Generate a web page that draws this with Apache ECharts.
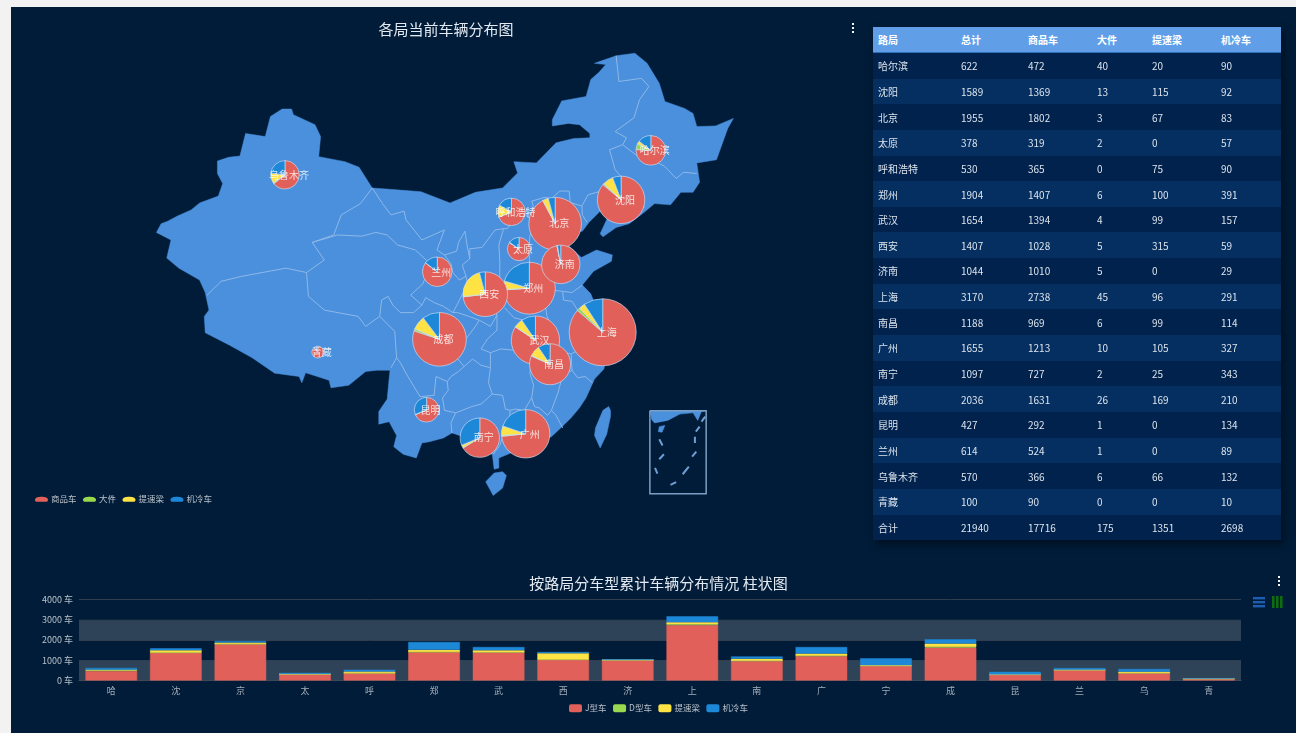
<!DOCTYPE html>
<html>
<head>
<meta charset="utf-8">
<title>各局当前车辆分布图</title>
<script src="https://cdn.jsdelivr.net/npm/echarts@6/dist/echarts.min.js"></script>
<style>
  html, body { margin: 0; padding: 0; width: 1296px; height: 733px; overflow: hidden; background: #f2f2f2; }
  .panel { position: absolute; left: 11px; top: 7px; width: 1285px; height: 726px; background: #001c38; }
  #chart { position: absolute; left: 0; top: 0; width: 1296px; height: 733px; }
  .stats { position: absolute; left: 873px; top: 27px; width: 408px; border-collapse: collapse; table-layout: fixed;
    font-family: "Noto Sans CJK SC", sans-serif; font-size: 10px; color: #dbe3ec;
    box-shadow: 3px 4px 8px rgba(0, 0, 0, 0.45); }
  .stats th, .stats td { padding: 0 0 0 5px; text-align: left; height: 25.65px; white-space: nowrap; overflow: hidden; }
  .stats th { height: 25px; background: #609fe8; color: #fff; font-weight: 700; border-bottom: 1px solid #2f6fb5; }
  .stats tr:nth-child(odd) td { background: #00224d; }
  .stats tr:nth-child(even) td { background: #052f60; }
</style>
</head>
<body>
<div class="panel"></div>
<div id="chart"></div>
<table class="stats" id="stats"></table>
<script>
const fontFamily = '"Noto Sans CJK SC", sans-serif'

const columns = ['路局', '总计', '商品车', '大件', '提速梁', '机冷车']
const columnWidths = [83, 67, 69, 55, 69, 65]
const bureaus = ['哈尔滨', '沈阳', '北京', '太原', '呼和浩特', '郑州', '武汉', '西安', '济南', '上海', '南昌', '广州', '南宁', '成都', '昆明', '兰州', '乌鲁木齐', '青藏']
const shortNames = ['哈', '沈', '京', '太', '呼', '郑', '武', '西', '济', '上', '南', '广', '宁', '成', '昆', '兰', '乌', '青']
const totals = [622, 1589, 1955, 378, 530, 1904, 1654, 1407, 1044, 3170, 1188, 1655, 1097, 2036, 427, 614, 570, 100]
const goods = [472, 1369, 1802, 319, 365, 1407, 1394, 1028, 1010, 2738, 969, 1213, 727, 1631, 292, 524, 366, 90]
const large = [40, 13, 3, 2, 0, 6, 4, 5, 5, 45, 6, 10, 2, 26, 1, 1, 6, 0]
const beams = [20, 115, 67, 0, 75, 100, 99, 315, 0, 96, 99, 105, 25, 169, 0, 0, 66, 0]
const cold = [90, 92, 83, 57, 90, 391, 157, 59, 29, 291, 114, 327, 343, 210, 134, 89, 132, 10]
const sumRow = ['合计', 21940, 17716, 175, 1351, 2698]

// city lon/lat of each bureau
const cityCoords = [[126.6, 45.75], [123.43, 41.8], [116.4, 39.9], [112.55, 37.87], [111.75, 40.84], [113.65, 34.75], [114.3, 30.6], [108.95, 34.27], [117, 36.65], [121.47, 31.23], [115.86, 28.68], [113.26, 23.13], [108.37, 22.82], [104.07, 30.67], [102.7, 25.05], [103.83, 36.06], [87.6, 43.8], [91.1, 29.65]]

const pieNames = ['商品车', '大件', '提速梁', '机冷车']
const barNames = ['J型车', 'D型车', '提速梁', '机冷车']
const colors = ['#e2605a', '#9ad94e', '#ffe344', '#1e88d8']
const yTicks = [0, 1000, 2000, 3000, 4000]

// simplified base map, lon/lat
const chinaOutline = [[73.9, 39.2], [74.4, 39.9], [75.1, 40.1], [76.1, 40.5], [77.6, 41], [78.5, 41.55], [80.5, 42.1], [80.96, 43.1], [80.4, 43.9], [80.4, 44.9], [81.6, 45.2], [82.8, 45.3], [83.4, 47.1], [85.5, 46.85], [86.05, 48.45], [87.3, 49.05], [88.3, 49.05], [88.5, 48.6], [90.8, 47.8], [91.4, 46.85], [91.2, 45.25], [94, 44.85], [95.5, 44.4], [96.9, 42.75], [99.5, 42.6], [102.1, 42.45], [105.2, 41.55], [107.9, 42.4], [110.8, 42.75], [112.4, 43.95], [112, 44.85], [114.4, 44.75], [116.5, 46.35], [118.4, 46.7], [120.1, 46.75], [120.1, 47.1], [119, 47.8], [117.8, 47.9], [116.1, 47.7], [116.1, 48.2], [117.1, 49.7], [119.7, 50.05], [120.2, 51.4], [121.1, 52], [121.8, 52.6], [120.6, 52.7], [122.9, 53.3], [124.9, 53.5], [126.2, 52.7], [127.5, 51.1], [128.1, 49.65], [130.2, 49.1], [131.1, 48.7], [131.5, 47.65], [133.5, 47.7], [135.4, 48.3], [134.8, 47.5], [133.6, 45], [131.5, 44.75], [131.8, 43.2], [131.1, 42.4], [129.8, 42.4], [128.7, 41.4], [127, 41.5], [125.8, 40.75], [124.3, 39.9], [122.9, 39.6], [121.5, 38.85], [121.2, 39.1], [122, 40.4], [121.2, 40.9], [120, 40], [119.3, 39.3], [118, 39.2], [117.7, 38.7], [117.6, 38.3], [118.9, 37.4], [119.2, 37.2], [120.8, 37.8], [122.5, 37.4], [122.4, 36.9], [120.5, 36.1], [119.3, 35], [120.2, 34.3], [120.9, 33], [121.9, 31.8], [121.9, 30.9], [120.9, 30.4], [122, 29.9], [121.6, 28.3], [120.6, 27.5], [119.7, 26], [119, 25.2], [118.1, 24.4], [117, 23.6], [116, 22.9], [114.3, 22.5], [113.6, 22.2], [112, 21.7], [110.4, 21.2], [110.4, 20.4], [109.9, 20.3], [109.7, 21.5], [108.6, 21.6], [108, 21.5], [106.7, 22], [106.6, 22.9], [105.4, 23.2], [104.5, 22.8], [103, 22.5], [102.2, 22.4], [101.6, 21.2], [100.2, 21.5], [99.2, 22.1], [99.5, 23], [98.7, 24.1], [97.6, 23.9], [97.6, 24.9], [98.5, 25.9], [98.7, 27.5], [98.8, 28.2], [97.4, 28.2], [96.2, 28.1], [94.4, 27], [92.5, 26.8], [92.3, 27.4], [89.8, 28], [89.4, 27.2], [89.1, 27.7], [86.5, 27.97], [84.1, 29.2], [81.7, 30.2], [79.1, 31.2], [79, 32.5], [79.5, 33], [79.1, 34.4], [78.5, 35.4], [76.3, 36.35], [75, 37.15], [75.45, 38.6]]
const hainan = [[109, 19.3], [109.8, 18.2], [110.8, 18.8], [111.2, 19.8], [110.8, 20.1], [109.9, 20], [109, 19.3]]
const taiwan = [[122.3, 25], [122.1, 25.3], [121.5, 25], [120.7, 23.6], [120.6, 23], [121.2, 22], [121.9, 23.1], [122.3, 24.5], [122.3, 25]]
const provinceBorders = [
  [[96.9, 42.75], [95.65, 41.5], [93.6, 40.6], [92.8, 39], [90.5, 38.4], [91.8, 37], [89.9, 36], [87.7, 36.35], [83, 35.7], [80.8, 35.3], [79.3, 34.2]],
  [[90.5, 38.4], [93.2, 39], [95.8, 38.9], [97.3, 39.2], [98.5, 39], [99.6, 38.2], [101.5, 37.8], [102.8, 36.9], [102.7, 36.3], [102.5, 35.5], [102.3, 35.1], [101, 34.2], [102.2, 33.4], [101.3, 32.8], [99.9, 32.8], [99.1, 33.4], [98.6, 34.1], [97.9, 33.8], [97.7, 32.5], [96.2, 31.7], [95.4, 32.5], [91.8, 33], [90.1, 34.1], [89.9, 36]],
  [[97.7, 32.5], [99.3, 31.3], [99.5, 29.2], [98.9, 28.4]],
  [[99.5, 29.2], [99.9, 28.8], [100.7, 27.7], [102, 26.1], [103.5, 26.2], [103.7, 27.7], [104.9, 27.3], [105.3, 27.7], [106.1, 28.1], [106.7, 28.5], [107.6, 29.1], [108.5, 28.6], [109.5, 28.4], [109.3, 27.2], [109.7, 26.3], [108.5, 25.5], [107.5, 25.3], [106.5, 25], [105.8, 24.8], [104.6, 25], [104.4, 26], [105, 26.6], [104.9, 27.3]],
  [[105.8, 24.8], [105.3, 24], [105.4, 23.2]],
  [[96.9, 42.75], [98, 41.5], [98.9, 40.6], [100.3, 40.9], [100.5, 40.2], [102.2, 38.6], [104.6, 39.4], [103.8, 37.8], [104.6, 37.4], [105.9, 37.7], [106.1, 38.4], [106.8, 39.3], [107, 38.2], [107.3, 37.1], [106.5, 36.6], [106.9, 35.7], [106.2, 35.4], [105.5, 36], [105.3, 36.7], [104.6, 37.4]],
  [[107.3, 37.1], [107.3, 37.9], [108.6, 38], [110, 39.4], [110.9, 39.5], [111.3, 39.5], [112, 40.2], [113, 40.7], [114.1, 40.7], [114.1, 41.2], [113.9, 41.7], [115.3, 42], [116, 41.9], [116.9, 42.5], [117.9, 42.5], [118, 41.6], [119.25, 41.3], [119.9, 42.2], [121.3, 42.5], [122.5, 42.8], [123.6, 43.5], [122.8, 44.2], [122.2, 45.8], [123.6, 46.2], [124, 46.75], [122.8, 47.25], [124.8, 48.35], [125.4, 49.8], [126.4, 50.85], [125.6, 51.5], [123.2, 51.25], [122.9, 53.3]],
  [[123.6, 46.2], [125, 45.4], [126.5, 45.1], [128.1, 44.46], [129.3, 43.5], [130.1, 44], [131.5, 43.9]],
  [[123.6, 43.5], [124.6, 43], [125.5, 42.2], [125.9, 41.2]],
  [[119.25, 41.3], [119.3, 40.6], [119.8, 40]],
  [[110.9, 39.5], [110.4, 38.2], [110.5, 36.9], [110.5, 35.3], [110.3, 34.6], [111, 34.3], [110.9, 33.3], [110, 33], [110.2, 32.6], [109.5, 31.7], [108.3, 32.2], [107.2, 32.5], [106, 32.8], [105.5, 32.8], [106, 33.5], [106.6, 34.4], [107.1, 35], [106.9, 35.7]],
  [[113, 40.7], [114.3, 40], [113.7, 38.9], [113.6, 37.6], [113.7, 36.8], [114.3, 36.2], [113.5, 35.6], [112.9, 35.2], [111, 34.7], [110.3, 34.6]],
  [[114.3, 36.2], [115.4, 36.1], [115.4, 36.9], [116.3, 37.6], [117.6, 38.3]],
  [[115.4, 36.1], [115.1, 35.4], [116.1, 34.6], [117.2, 34.5], [118.2, 34.4], [119.3, 35]],
  [[116.1, 34.6], [115.3, 33.8], [115.5, 32.6], [115.9, 31.8], [114.9, 31.5], [114.1, 31.7], [113.7, 31.8], [113, 32.2], [112, 32.4], [111, 33.2]],
  [[110.2, 32.6], [110.2, 31.4], [109.2, 30.7], [108.5, 29.9], [109.5, 29.6], [110.6, 29.9], [112, 29.8], [113, 29.5], [114, 29], [115.3, 29.8], [116.1, 29.8], [115.9, 31.1], [115.9, 31.8]],
  [[109.5, 29.6], [109.5, 28.4]],
  [[117.2, 34.5], [117.3, 33.8], [118.2, 33.7], [118.8, 33], [119.2, 32.5], [118.6, 32], [118.9, 31.3], [119.5, 31.2], [119.6, 30.4], [118.9, 29.8], [118.1, 29.5], [117, 29.7], [116.1, 29.8]],
  [[119.6, 31.1], [120.5, 30.9], [121.3, 30.7]],
  [[118.1, 29.5], [118.2, 28.2], [118.8, 27.6], [119.6, 27.7], [120.4, 27.2]],
  [[118.2, 28.2], [117.2, 27.8], [116.7, 26.4], [116, 25], [116.5, 24.6], [117.2, 23.6]],
  [[116, 25], [115.6, 24.6], [114.7, 25.2], [114.2, 25.3], [113.9, 26], [114.1, 27], [113.7, 28], [114, 29]],
  [[113.9, 26], [113.1, 25], [112.2, 25.1], [111.6, 25], [111.1, 25.1], [110.8, 26.2], [109.7, 26.3]],
  [[111.6, 25], [111.5, 23.8], [111, 23.3], [110.5, 22.2], [109.8, 21.5]],
  [[106.7, 28.5], [105.8, 29.3], [106.3, 30.2], [107, 30.8], [108, 31.8], [108.3, 32.2]],
  [[105.5, 32.8], [104.5, 33.3], [103.5, 33.6], [102.6, 34], [102.2, 33.4]],
  [[115.5, 39.6], [116, 40.5], [116.9, 40.9], [117.4, 40.2], [116.9, 39.7], [116.4, 39.5], [115.5, 39.6]]
]
// south sea inset, lower right of the map
const insetBox = [[126.5, 24.96], [132.5, 24.96], [132.5, 18.34], [126.5, 18.34], [126.5, 24.96]]
const insetCoast = [[126.5, 24.96], [132.5, 24.96], [132, 24.9], [131.6, 24.2], [131.1, 24.8], [129.7, 24.7], [128.4, 24.2], [127, 24], [126.7, 24.25], [126.5, 24.96]]
const insetIsland = [[127.5, 23.7], [128.1, 23.8], [127.8, 23.25], [127.4, 23.3], [127.5, 23.7]]
const insetDashes = [
  [[127.5, 22.7], [127.85, 22.2]], [[127.5, 21.1], [128, 21.5]], [[127.05, 20.4], [127.3, 19.95]], [[128.7, 19.05], [129.3, 19.27]],
  [[130, 19.9], [130.65, 20.5]], [[131, 21.3], [131.45, 21.7]], [[131.3, 22.9], [131.3, 22.4]], [[131.4, 23.3], [131.8, 23.7]], [[132, 24.1], [132.4, 24.5]]
]

const feature = (name, type, coordinates) => ({ type: 'Feature', properties: { name }, geometry: { type, coordinates } })

echarts.registerMap('chinaBase', {
  type: 'FeatureCollection',
  features: [
    feature('china', 'Polygon', [chinaOutline.concat([chinaOutline[0]])]),
    feature('hainan', 'Polygon', [hainan]),
    feature('taiwan', 'Polygon', [taiwan]),
    feature('borders', 'MultiLineString', provinceBorders),
    feature('insetCoast', 'Polygon', [insetCoast]),
    feature('insetIsland', 'Polygon', [insetIsland]),
    feature('insetDashes', 'MultiLineString', insetDashes),
    feature('insetBox', 'LineString', insetBox)
  ]
})

// table
const headHtml = '<colgroup>' + columnWidths.map((w) => `<col style="width:${w}px">`).join('') + '</colgroup>' +
  '<thead><tr>' + columns.map((c) => `<th>${c}</th>`).join('') + '</tr></thead>'
const bodyRows = bureaus.map((name, i) => [name, totals[i], goods[i], large[i], beams[i], cold[i]]).concat([sumRow])
document.getElementById('stats').innerHTML = headHtml + '<tbody>' +
  bodyRows.map((row) => '<tr>' + row.map((v) => `<td>${v}</td>`).join('') + '</tr>').join('') + '</tbody>'

const pieSeries = bureaus.map((name, i) => ({
  name,
  type: 'pie',
  coordinateSystem: 'geo',
  center: cityCoords[i],
  radius: 0.595 * Math.sqrt(totals[i]),
  silent: true,
  z: 3,
  label: { show: false },
  labelLine: { show: false },
  data: [goods[i], large[i], beams[i], cold[i]].map((value, k) => ({
    name: pieNames[k],
    value,
    itemStyle: { color: colors[k], borderColor: 'rgba(205, 225, 245, 0.65)', borderWidth: 1 }
  }))
}))

const barSeries = barNames.map((name, k) => ({
  name,
  type: 'bar',
  stack: 'total',
  barWidth: '80%',
  xAxisIndex: 0,
  yAxisIndex: 0,
  itemStyle: { color: colors[k], borderColor: colors[k], borderWidth: 0.5 },
  data: [goods, large, beams, cold][k]
}))

const dots = (x, y) => [0, 4, 8].map((d) => ({
  type: 'rect',
  shape: { x, y: y + d, width: 2, height: 2 },
  style: { fill: '#f2f5f8' }
}))

const chart = echarts.init(document.getElementById('chart'))
chart.setOption({
  animation: false,
  textStyle: { fontFamily },
  title: [
    { text: '各局当前车辆分布图', left: 441, top: 17, textAlign: 'center', textStyle: { color: '#e4eaf1', fontSize: 15, fontWeight: 'normal', fontFamily } },
    { text: '按路局分车型累计车辆分布情况 柱状图', left: 653.5, top: 571, textAlign: 'center', textStyle: { color: '#e4eaf1', fontSize: 15, fontWeight: 'normal', fontFamily } }
  ],
  legend: [
    {
      data: pieNames,
      left: 30,
      top: 490,
      itemWidth: 13,
      itemHeight: 7,
      itemGap: 6.5,
      icon: 'path://M0 5C0 1 5 0 10 0C15 0 20 1 20 5C20 7 18 8 17 8L3 8C2 8 0 7 0 5Z',
      itemStyle: { borderWidth: 0 },
      selectedMode: false,
      textStyle: { color: '#b9c1c9', fontSize: 8.5, fontFamily, padding: [0, 0, 0, -2] }
    },
    {
      data: barNames,
      left: 564,
      top: 699,
      itemWidth: 13,
      itemHeight: 8,
      itemGap: 6.5,
      icon: 'roundRect',
      itemStyle: { borderWidth: 0 },
      selectedMode: false,
      textStyle: { color: '#b9c1c9', fontSize: 8.5, fontFamily, padding: [0, 0, 0, -2] }
    }
  ],
  geo: {
    map: 'chinaBase',
    roam: false,
    silent: true,
    aspectScale: 0.75,
    boundingCoords: [[73, 54], [136, 3]],
    left: 148,
    top: 47,
    width: 591,
    height: 639,
    itemStyle: { areaColor: '#4a90dd', borderColor: '#4a90dd', borderWidth: 0.5 },
    label: { show: false },
    regions: [
      { name: 'borders', itemStyle: { areaColor: 'none', borderColor: '#8fb8e8', borderWidth: 1 } },
      { name: 'insetDashes', itemStyle: { areaColor: 'none', borderColor: '#6f9fd6', borderWidth: 2 } },
      { name: 'insetBox', itemStyle: { areaColor: 'none', borderColor: '#7b9fc4', borderWidth: 1.5 } }
    ]
  },
  grid: { left: 79, top: 599.5, width: 1162, height: 81, containLabel: false },
  xAxis: {
    type: 'category',
    data: shortNames,
    axisLine: { lineStyle: { color: '#3b4a5a' } },
    axisTick: { show: false },
    axisLabel: { color: '#a4aeb9', fontSize: 9, margin: 6, interval: 0 }
  },
  yAxis: {
    type: 'value',
    min: yTicks[0],
    max: yTicks[yTicks.length - 1],
    interval: yTicks[1] - yTicks[0],
    axisLine: { show: false },
    axisTick: { show: false },
    axisLabel: { color: '#b9c1c9', fontSize: 9, margin: 6, formatter: (v) => `${v} 车` },
    splitLine: { lineStyle: { color: '#2f3f4f' } },
    splitArea: { show: true, areaStyle: { color: ['#2e4358', 'rgba(0,0,0,0)'] } }
  },
  graphic: [
    ...dots(852, 23),
    ...dots(1278, 576),
    ...[597, 601, 605].map((y) => ({ type: 'rect', shape: { x: 1253, y, width: 12, height: 2.4 }, style: { fill: '#1c5fb0' } })),
    ...[1272, 1276, 1280].map((x) => ({ type: 'rect', shape: { x, y: 596, width: 2.6, height: 12 }, style: { fill: '#0f6b12' } }))
  ],
  series: [
    ...pieSeries,
    {
      name: 'cityLabels',
      type: 'scatter',
      coordinateSystem: 'geo',
      symbolSize: 1,
      silent: true,
      z: 5,
      itemStyle: { color: 'rgba(0,0,0,0)' },
      label: { show: true, position: 'inside', offset: [4, 0], color: '#fff', fontSize: 10, fontFamily, formatter: '{b}' },
      data: bureaus.map((name, i) => ({ name, value: cityCoords[i] }))
    },
    ...barSeries
  ]
})
</script>
</body>
</html>
